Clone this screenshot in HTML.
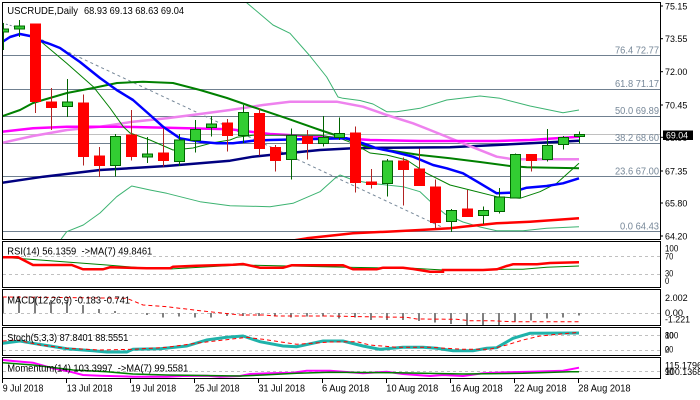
<!DOCTYPE html>
<html><head><meta charset="utf-8"><style>html,body{margin:0;padding:0;background:#fff}svg{display:block}text{white-space:pre}</style></head>
<body>
<svg width="700" height="400" viewBox="0 0 700 400" xmlns="http://www.w3.org/2000/svg" font-family="'Liberation Sans', sans-serif">
<rect width="700" height="400" fill="#fff"/>
<defs>
<clipPath id="cm"><rect x="3" y="3" width="657" height="236"/></clipPath>
<clipPath id="cr"><rect x="3" y="242" width="657" height="45"/></clipPath>
<clipPath id="cd"><rect x="3" y="290" width="657" height="35"/></clipPath>
<clipPath id="cs"><rect x="3" y="328" width="657" height="27"/></clipPath>
<clipPath id="co"><rect x="3" y="358" width="657" height="20"/></clipPath>
</defs>

<!-- MAIN PANEL -->
<g clip-path="url(#cm)">
<g stroke="#708090" stroke-width="1" shape-rendering="crispEdges">
<line x1="2" y1="55.5" x2="660" y2="55.5"/>
<line x1="2" y1="89.5" x2="660" y2="89.5"/>
<line x1="2" y1="116.5" x2="660" y2="116.5"/>
<line x1="2" y1="143.5" x2="660" y2="143.5"/>
<line x1="2" y1="176.5" x2="660" y2="176.5"/>
<line x1="2" y1="231.5" x2="660" y2="231.5"/>
</g>
<line x1="2" y1="134.5" x2="660" y2="134.5" stroke="#c0c0c0" stroke-width="1"/>
<g fill="#778899" font-size="10">
<text x="615" y="53.3" textLength="44" lengthAdjust="spacingAndGlyphs">76.4 72.77</text>
<text x="615" y="86.8" textLength="44" lengthAdjust="spacingAndGlyphs">61.8 71.17</text>
<text x="615" y="114" textLength="44" lengthAdjust="spacingAndGlyphs">50.0 69.89</text>
<text x="615" y="140.8" textLength="44" lengthAdjust="spacingAndGlyphs">38.2 68.60</text>
<text x="615" y="174.5" textLength="44" lengthAdjust="spacingAndGlyphs">23.6 67.00</text>
<text x="620" y="229.5" textLength="39" lengthAdjust="spacingAndGlyphs">0.0 64.43</text>
</g>
<line x1="36" y1="37" x2="446" y2="229" stroke="#778899" stroke-width="1" stroke-dasharray="3,3"/>
<line x1="2" y1="23" x2="16" y2="27" stroke="#778899" stroke-width="1" stroke-dasharray="2,2"/>

<g fill="none" stroke-linejoin="round">
<polyline stroke="#3cb371" stroke-width="1" points="240,-5 246.7,2.7 273,25 290,33.3 310,56 326.7,77 338,97 343,98.3 360,100.5 373,104 386.7,111.7 396.7,111.7 420,108.3 446.7,100 480,96 500,98.3 530,106 563,112.7 579,110"/>
<polyline stroke="#3cb371" stroke-width="1" points="58,245 61.7,238.3 66.7,231.7 83.3,225 100,213 116.7,196.7 131.7,186 150,190 166.7,193.3 200,201.7 230,205.7 270,206.7 293,203.3 320,191.7 335,178.3 340,175 353,180 370,183.3 403,186.7 420,191.7 433,204 445,214 463,222 480,227 496.7,230.7 523,230.7 546.7,228.3 579,226.7"/>
<polyline stroke="#ff0000" stroke-width="2.5" points="290,241 306.7,238.3 330,235.7 353,233.3 386.7,231.7 420,230 450,228.3 463,226.7 496.7,223.3 530,221.7 579,218.3"/>
<polyline stroke="#000080" stroke-width="2.5" points="2.7,182.7 43.3,176.7 100,170 166.7,166 230,160.7 253,156.7 286.7,153.3 320,150 353,148.3 386.7,147.7 450,147.3 496.7,145 530,143.3 579,140.7"/>
<polyline stroke="#ee82ee" stroke-width="2.5" points="2.7,142.7 33,136 67,130 100,126.7 133,121.7 166.7,118.3 200,114 230,110 263,105 290,101.7 336.7,101.7 363,106.7 386.7,115 413,123.3 430,130 463,143.3 496.7,156.7 513,159.3 579,159.3"/>
<polyline stroke="#ff00ff" stroke-width="2.5" points="2.7,131.7 33,128.3 67,126.7 116.7,126.7 166.7,127.7 230,129.3 270,134 320,136.7 370,140 420,141 496.7,141 530,140 579,136.7"/>
<polyline stroke="#008000" stroke-width="2" points="2.7,116 20,110 33,103 43,100 67,93 93,88 117,83 143,81.7 173,83 200,90 227,98 250,106 286.7,118.3 320,130 350,140 366.7,146.7 386.7,150 420,155 450,158.3 480,162 510,166 526.7,167.3 579,168.3"/>
<polyline stroke="#008000" stroke-width="1" points="36,36 40,40.7 66.7,63.3 93.3,86.7 110,108 123.3,126.7 130,133 150,140 173,150 193,148 213,142.7 230,140 236.7,137.3 253,135.3 273,135.3 296.7,135 320,135.3 340,138.3 353,143.3 370,153 386.7,155 406.7,160 426.7,173.3 450,185 470,190 496.7,196.7 520,198.3 540,191.7 556.7,183.3 579,163.3"/>
<polyline stroke="#0000ff" stroke-width="2.5" points="2.7,41.7 10,37 20,34 30,36 40,40.7 50,44 60,48 70,55 80,62 90,70 100,78 116.7,90 133,100 150,115 163,126.7 180,138.3 200,141.7 216.7,143.3 233,143.3 253,140.7 270,140 303,139.3 346.7,138.3 363,143.3 376.7,148.3 393,151.7 413,156.7 433,165 446.7,168.3 463,173.3 480,183.3 496.7,193.3 510,192.7 526.7,187.7 546.7,186 563,183.3 579,178.3"/>
</g>

<!-- candles (foreground) -->
<g stroke-width="1">
<g stroke="#006400"><line x1="3.5" y1="23" x2="3.5" y2="50"/><rect x="-1.5" y="29" width="10" height="3" fill="#32cd32"/></g>
<g stroke="#006400"><line x1="19.5" y1="20" x2="19.5" y2="37"/><rect x="14.5" y="26" width="10" height="3" fill="#32cd32"/></g>
<g stroke="#b22222"><line x1="35.5" y1="24" x2="35.5" y2="113"/><rect x="30.5" y="24" width="10" height="77.5" fill="#ff0000" stroke="#ff0000"/></g>
<g stroke="#b22222"><line x1="51.5" y1="88" x2="51.5" y2="130"/><rect x="46.5" y="102" width="10" height="5.5" fill="#ff0000" stroke="#ff0000"/></g>
<g stroke="#006400"><line x1="67.5" y1="79" x2="67.5" y2="117"/><rect x="62.5" y="102" width="10" height="4.5" fill="#32cd32"/></g>
<g stroke="#b22222"><line x1="83.5" y1="94.5" x2="83.5" y2="165.5"/><rect x="78.5" y="103" width="10" height="53.5" fill="#ff0000" stroke="#ff0000"/></g>
<g stroke="#b22222"><line x1="99.5" y1="147" x2="99.5" y2="177"/><rect x="94.5" y="156" width="10" height="9.5" fill="#ff0000" stroke="#ff0000"/></g>
<g stroke="#006400"><line x1="115.5" y1="134" x2="115.5" y2="176.5"/><rect x="110.5" y="136.5" width="10" height="29" fill="#32cd32"/></g>
<g stroke="#b22222"><line x1="131.5" y1="110" x2="131.5" y2="160.5"/><rect x="126.5" y="135" width="10" height="21.5" fill="#ff0000" stroke="#ff0000"/></g>
<g stroke="#006400"><line x1="147.5" y1="137" x2="147.5" y2="163"/><rect x="142.5" y="154" width="10" height="3" fill="#32cd32"/></g>
<g stroke="#b22222"><line x1="163.5" y1="128" x2="163.5" y2="166.5"/><rect x="158.5" y="153" width="10" height="7.5" fill="#ff0000" stroke="#ff0000"/></g>
<g stroke="#006400"><line x1="179.5" y1="134" x2="179.5" y2="166"/><rect x="174.5" y="140" width="10" height="21.5" fill="#32cd32"/></g>
<g stroke="#006400"><line x1="195.5" y1="120" x2="195.5" y2="152.5"/><rect x="190.5" y="129.5" width="10" height="11" fill="#32cd32"/></g>
<g stroke="#006400"><line x1="211.5" y1="116" x2="211.5" y2="136.5"/><rect x="206.5" y="124" width="10" height="3.5" fill="#32cd32"/></g>
<g stroke="#b22222"><line x1="227.5" y1="119" x2="227.5" y2="151.5"/><rect x="222.5" y="123" width="10" height="12.5" fill="#ff0000" stroke="#ff0000"/></g>
<g stroke="#006400"><line x1="243.5" y1="105" x2="243.5" y2="143"/><rect x="238.5" y="112.5" width="10" height="23" fill="#32cd32"/></g>
<g stroke="#b22222"><line x1="259.5" y1="108.5" x2="259.5" y2="155.5"/><rect x="254.5" y="113.5" width="10" height="35" fill="#ff0000" stroke="#ff0000"/></g>
<g stroke="#b22222"><line x1="275.5" y1="145" x2="275.5" y2="171.5"/><rect x="270.5" y="147.5" width="10" height="13" fill="#ff0000" stroke="#ff0000"/></g>
<g stroke="#006400"><line x1="291.5" y1="128.5" x2="291.5" y2="179.5"/><rect x="286.5" y="135.5" width="10" height="24" fill="#32cd32"/></g>
<g stroke="#b22222"><line x1="307.5" y1="130" x2="307.5" y2="159.5"/><rect x="302.5" y="136.5" width="10" height="7" fill="#ff0000" stroke="#ff0000"/></g>
<g stroke="#006400"><line x1="323.5" y1="116" x2="323.5" y2="146.5"/><rect x="318.5" y="137.5" width="10" height="6" fill="#32cd32"/></g>
<g stroke="#006400"><line x1="339.5" y1="117.5" x2="339.5" y2="140"/><rect x="334.5" y="133.5" width="10" height="4" fill="#32cd32"/></g>
<g stroke="#b22222"><line x1="355.5" y1="126.5" x2="355.5" y2="192.5"/><rect x="350.5" y="133" width="10" height="49.5" fill="#ff0000" stroke="#ff0000"/></g>
<g stroke="#b22222"><line x1="371.5" y1="169" x2="371.5" y2="188.5"/><rect x="366.5" y="182" width="10" height="2.5" fill="#ff0000" stroke="#ff0000"/></g>
<g stroke="#006400"><line x1="387.5" y1="159" x2="387.5" y2="196.5"/><rect x="382.5" y="161" width="10" height="22.5" fill="#32cd32"/></g>
<g stroke="#b22222"><line x1="403.5" y1="157.5" x2="403.5" y2="205.5"/><rect x="398.5" y="161" width="10" height="8.5" fill="#ff0000" stroke="#ff0000"/></g>
<g stroke="#b22222"><line x1="419.5" y1="148.5" x2="419.5" y2="186"/><rect x="414.5" y="169" width="10" height="16.5" fill="#ff0000" stroke="#ff0000"/></g>
<g stroke="#b22222"><line x1="435.5" y1="179.5" x2="435.5" y2="228.5"/><rect x="430.5" y="187" width="10" height="35.5" fill="#ff0000" stroke="#ff0000"/></g>
<g stroke="#006400"><line x1="451.5" y1="209" x2="451.5" y2="232"/><rect x="446.5" y="210.5" width="10" height="11" fill="#32cd32"/></g>
<g stroke="#b22222"><line x1="467.5" y1="190" x2="467.5" y2="216.5"/><rect x="462.5" y="209" width="10" height="7.5" fill="#ff0000" stroke="#ff0000"/></g>
<g stroke="#006400"><line x1="483.5" y1="206.5" x2="483.5" y2="224"/><rect x="478.5" y="210.5" width="10" height="5" fill="#32cd32"/></g>
<g stroke="#006400"><line x1="499.5" y1="188" x2="499.5" y2="213.5"/><rect x="494.5" y="197" width="10" height="14.5" fill="#32cd32"/></g>
<g stroke="#006400"><line x1="515.5" y1="153.5" x2="515.5" y2="198.5"/><rect x="510.5" y="154.5" width="10" height="43.5" fill="#32cd32"/></g>
<g stroke="#b22222"><line x1="531.5" y1="154.5" x2="531.5" y2="171.5"/><rect x="526.5" y="154.5" width="10" height="6" fill="#ff0000" stroke="#ff0000"/></g>
<g stroke="#006400"><line x1="547.5" y1="129" x2="547.5" y2="161.5"/><rect x="542.5" y="145.5" width="10" height="14" fill="#32cd32"/></g>
<g stroke="#006400"><line x1="563.5" y1="136" x2="563.5" y2="149.5"/><rect x="558.5" y="137.5" width="10" height="7" fill="#32cd32"/></g>
<g stroke="#006400"><line x1="579.5" y1="131.5" x2="579.5" y2="143.5"/><rect x="574.5" y="134.5" width="10" height="2" fill="#32cd32"/></g>
</g>
</g>

<text x="7.3" y="14" font-size="10.5" fill="#000" textLength="70.7" lengthAdjust="spacingAndGlyphs">USCRUDE,Daily</text>
<text x="84" y="14" font-size="10.5" fill="#000" textLength="100" lengthAdjust="spacingAndGlyphs">68.93 69.13 68.63 69.04</text>

<!-- dashed level lines -->
<g stroke="#c0c0c0" stroke-width="1" stroke-dasharray="3,3">
<line x1="3" y1="256.5" x2="660" y2="256.5"/>
<line x1="3" y1="274.5" x2="660" y2="274.5"/>
<line x1="3" y1="313.5" x2="660" y2="313.5"/>
<line x1="3" y1="335.5" x2="660" y2="335.5"/>
<line x1="3" y1="350.5" x2="660" y2="350.5"/>
<line x1="3" y1="371.5" x2="660" y2="371.5"/>
</g>
<!-- RSI -->
<g clip-path="url(#cr)" fill="none">
<polyline stroke="#008000" stroke-width="1" points="2.7,257.3 30,259.3 70,262.3 106.7,265 146.7,268.3 170,269 200,267.3 240,265 346.7,267.3 413,268.3 443,270 483,270 506.7,269.3 523,269.3 546.7,267.3 579,266"/>
<polyline stroke="#ff0000" stroke-width="2.5" points="2.7,257.3 18,257.3 33,265 71.7,265 83,269.3 103,269.3 110,267.3 146.7,268.3 170,268.3 173,266.7 196.7,265.7 233,264.7 243,264 260,267.7 283,267.7 291.7,265.3 343,265.3 353,269.3 376.7,269.3 383,267.7 403,267.7 413,269 430,271.7 443,271.7 443,270 483,270 497,269.3 506.7,266 513,264.3 537,264.3 550,263 579,262.3"/>
</g>
<text x="7.3" y="254.3" font-size="10" fill="#000" textLength="145" lengthAdjust="spacingAndGlyphs">RSI(14) 56.1359  -&gt;MA(7) 49.8461</text>

<!-- MACD -->
<g clip-path="url(#cd)" fill="#808080" shape-rendering="crispEdges">
<rect x="2" y="296.7" width="2" height="16.3"/>
<rect x="18" y="296" width="2" height="17"/>
<rect x="34" y="296.7" width="2" height="16.3"/>
<rect x="50" y="300" width="2" height="13"/>
<rect x="66" y="301.7" width="2" height="11.3"/>
<rect x="82" y="305" width="2" height="8"/>
<rect x="98" y="309" width="2" height="4"/>
<rect x="114" y="311" width="2" height="2"/>
<rect x="146" y="313" width="2" height="2"/>
<rect x="162" y="313" width="2" height="4.3"/>
<rect x="178" y="313" width="2" height="3.7"/>
<rect x="194" y="313" width="2" height="4.3"/>
<rect x="210" y="313" width="2" height="4.3"/>
<rect x="226" y="313" width="2" height="3"/>
<rect x="242" y="313" width="2" height="3"/>
<rect x="258" y="313" width="2" height="3"/>
<rect x="274" y="313" width="2" height="3.7"/>
<rect x="290" y="313" width="2" height="4.3"/>
<rect x="306" y="313" width="2" height="3.7"/>
<rect x="322" y="313" width="2" height="3.7"/>
<rect x="338" y="313" width="2" height="5.3"/>
<rect x="354" y="313" width="2" height="4.3"/>
<rect x="370" y="313" width="2" height="7"/>
<rect x="386" y="313" width="2" height="7"/>
<rect x="402" y="313" width="2" height="7"/>
<rect x="418" y="313" width="2" height="8"/>
<rect x="434" y="313" width="2" height="9.7"/>
<rect x="450" y="313" width="2" height="11"/>
<rect x="466" y="313" width="2" height="12"/>
<rect x="482" y="313" width="2" height="12"/>
<rect x="498" y="313" width="2" height="12"/>
<rect x="514" y="313" width="2" height="8.7"/>
<rect x="530" y="313" width="2" height="7.7"/>
<rect x="546" y="313" width="2" height="5.3"/>
<rect x="562" y="313" width="2" height="4.3"/>
<rect x="578" y="313" width="2" height="2.3"/>
</g>
<g clip-path="url(#cd)">
<polyline fill="none" stroke="#ff0000" stroke-width="1" stroke-dasharray="4,3" points="2.7,297 60,297.5 126.7,298.3 143,305 166.7,306.7 200,310.7 240,315 263,315 276.7,316 330,316 363,316.7 406.7,317.3 416.7,319 456.7,319.3 470,320.7 490,320.7 513,321.7 579,321.7"/>
</g>
<text x="7.3" y="303.7" font-size="10" fill="#000" textLength="122.7" lengthAdjust="spacingAndGlyphs">MACD(12,26,9) -0.183 -0.741</text>

<!-- STOCH -->
<g clip-path="url(#cs)" fill="none">
<polyline stroke="#20b2aa" stroke-width="3" points="2.7,343.3 20,341 33,343.3 50,346 66.7,348.7 93,350.7 106.7,352 126.7,352 133,349.3 160,348.7 186.7,346 206.7,340 226.7,337.3 243,336 260,341.7 283,346 296.7,346.7 323,341 343,341 363,346 380,349.3 403,347.3 423,347.3 436.7,348.3 453,350.7 473,350.7 486.7,348.3 496.7,347.7 513,338.3 530,333.3 579,333"/>
<polyline stroke="#ff0000" stroke-width="1" stroke-dasharray="4,3" points="2.7,341 16.7,340 40,345 66.7,348.3 100,350 133,349.3 166.7,347.3 200,342.7 230,339.3 246.7,337.3 263,339.3 296.7,344.3 330,342 356.7,341.7 370,345 396.7,347.3 430,347.3 463,349.3 490,349.3 506.7,345 523,340 540,336 579,332.3"/>
</g>
<text x="7.3" y="341" font-size="10" fill="#000" textLength="121" lengthAdjust="spacingAndGlyphs">Stoch(5,3,3) 87.8401 88.5551</text>

<!-- MOMENTUM -->
<g clip-path="url(#co)" fill="none">
<polyline stroke="#ff00ff" stroke-width="2" points="2.7,360 13,361 33,362.7 53,368.3 70,371.7 83,375 100,375.7 133,376.7 166.7,376.7 183,376 206.7,375.7 220,376.7 240,376 250,374 270,373.3 293,372.7 306.7,370.7 330,370.7 363,373.3 386.7,371.7 403,374 416.7,375 430,376 443,375 463,376 483,373.3 506.7,372.3 530,371.7 563,370.7 579,367.7"/>
<polyline stroke="#008000" stroke-width="1.5" points="2.7,362.7 33,365 73,370 106.7,371.7 133,374 166.7,375 240,376 263,375 296.7,373.3 330,372.3 396.7,372.7 463,374 523,373.3 570,371.7 579,371.7"/>
</g>
<text x="7.3" y="371.7" font-size="10" fill="#000" textLength="181" lengthAdjust="spacingAndGlyphs">Momentum(14) 103.3997  -&gt;MA(7) 99.5581</text>

<!-- PANEL BORDERS -->
<g fill="none" stroke="#000" stroke-width="1" shape-rendering="crispEdges">
<rect x="2.5" y="2.5" width="658" height="237"/>
<rect x="2.5" y="241.5" width="658" height="46"/>
<rect x="2.5" y="289.5" width="658" height="36"/>
<rect x="2.5" y="327.5" width="658" height="28"/>
<rect x="2.5" y="357.5" width="658" height="21"/>
</g>

<g stroke="#000" stroke-width="1">
<line x1="660" y1="6" x2="663" y2="6"/>
<line x1="660" y1="38.7" x2="663" y2="38.7"/>
<line x1="660" y1="71.7" x2="663" y2="71.7"/>
<line x1="660" y1="105" x2="663" y2="105"/>
<line x1="660" y1="137.3" x2="663" y2="137.3"/>
<line x1="660" y1="171" x2="663" y2="171"/>
<line x1="660" y1="203" x2="663" y2="203"/>
<line x1="660" y1="236" x2="663" y2="236"/>
</g>
<g font-size="9.5" fill="#000">
<text x="665" y="9.5" textLength="22.3" lengthAdjust="spacingAndGlyphs">75.15</text>
<text x="665" y="42.2" textLength="22.3" lengthAdjust="spacingAndGlyphs">73.55</text>
<text x="665" y="75.2" textLength="22.3" lengthAdjust="spacingAndGlyphs">72.00</text>
<text x="665" y="108.5" textLength="22.3" lengthAdjust="spacingAndGlyphs">70.45</text>
<text x="665" y="140.8" textLength="22.3" lengthAdjust="spacingAndGlyphs">68.90</text>
<text x="665" y="174.5" textLength="22.3" lengthAdjust="spacingAndGlyphs">67.35</text>
<text x="665" y="206.5" textLength="22.3" lengthAdjust="spacingAndGlyphs">65.80</text>
<text x="665" y="239.5" textLength="22.3" lengthAdjust="spacingAndGlyphs">64.20</text>
</g>
<rect x="663" y="130.5" width="30" height="9.5" fill="#000"/>
<text x="666" y="138.7" font-size="9.5" fill="#fff" textLength="22" lengthAdjust="spacingAndGlyphs">69.04</text>

<g font-size="9.5" fill="#000">
<text x="665" y="251.7" textLength="13.3" lengthAdjust="spacingAndGlyphs">100</text>
<text x="665" y="259.3" textLength="8.3" lengthAdjust="spacingAndGlyphs">70</text>
<text x="665" y="276.7" textLength="8.3" lengthAdjust="spacingAndGlyphs">30</text>
<text x="665" y="284" textLength="4.2" lengthAdjust="spacingAndGlyphs">0</text>
<text x="665" y="301" textLength="22.7" lengthAdjust="spacingAndGlyphs">2.002</text>
<text x="665" y="316" textLength="18" lengthAdjust="spacingAndGlyphs">0.00</text>
<text x="665" y="322.7" textLength="25" lengthAdjust="spacingAndGlyphs">-1.221</text>
<text x="665" y="338.7" textLength="13.3" lengthAdjust="spacingAndGlyphs">100</text>
<text x="665" y="338.7" textLength="8.3" lengthAdjust="spacingAndGlyphs">80</text>
<text x="665" y="352.7" textLength="8.3" lengthAdjust="spacingAndGlyphs">20</text>
<text x="665" y="352.7" textLength="4.2" lengthAdjust="spacingAndGlyphs">0</text>
<text x="665" y="368.3" textLength="37" lengthAdjust="spacingAndGlyphs">115.1796</text>
<text x="665" y="375" textLength="37" lengthAdjust="spacingAndGlyphs">100.1368</text>
<text x="665" y="375" textLength="8.3" lengthAdjust="spacingAndGlyphs">90</text>
</g>

<g stroke="#000" stroke-width="1">
<line x1="2.5" y1="379" x2="2.5" y2="383"/>
<line x1="66.5" y1="379" x2="66.5" y2="383"/>
<line x1="130.5" y1="379" x2="130.5" y2="383"/>
<line x1="194.5" y1="379" x2="194.5" y2="383"/>
<line x1="258.5" y1="379" x2="258.5" y2="383"/>
<line x1="322.5" y1="379" x2="322.5" y2="383"/>
<line x1="386.5" y1="379" x2="386.5" y2="383"/>
<line x1="450.5" y1="379" x2="450.5" y2="383"/>
<line x1="514.5" y1="379" x2="514.5" y2="383"/>
<line x1="578.5" y1="379" x2="578.5" y2="383"/>
</g>
<g font-size="10" fill="#000">
<text x="2.7" y="391.5" textLength="40.7" lengthAdjust="spacingAndGlyphs">9 Jul 2018</text>
<text x="66.7" y="391.5" textLength="45.7" lengthAdjust="spacingAndGlyphs">13 Jul 2018</text>
<text x="130.7" y="391.5" textLength="45.5" lengthAdjust="spacingAndGlyphs">19 Jul 2018</text>
<text x="195" y="391.5" textLength="44.5" lengthAdjust="spacingAndGlyphs">25 Jul 2018</text>
<text x="258.5" y="391.5" textLength="46.5" lengthAdjust="spacingAndGlyphs">31 Jul 2018</text>
<text x="322" y="391.5" textLength="47.3" lengthAdjust="spacingAndGlyphs">6 Aug 2018</text>
<text x="386.3" y="391.5" textLength="52" lengthAdjust="spacingAndGlyphs">10 Aug 2018</text>
<text x="450.7" y="391.5" textLength="52" lengthAdjust="spacingAndGlyphs">16 Aug 2018</text>
<text x="514.3" y="391.5" textLength="52.3" lengthAdjust="spacingAndGlyphs">22 Aug 2018</text>
<text x="578.3" y="391.5" textLength="52.3" lengthAdjust="spacingAndGlyphs">28 Aug 2018</text>
</g>
</svg>
</body></html>
